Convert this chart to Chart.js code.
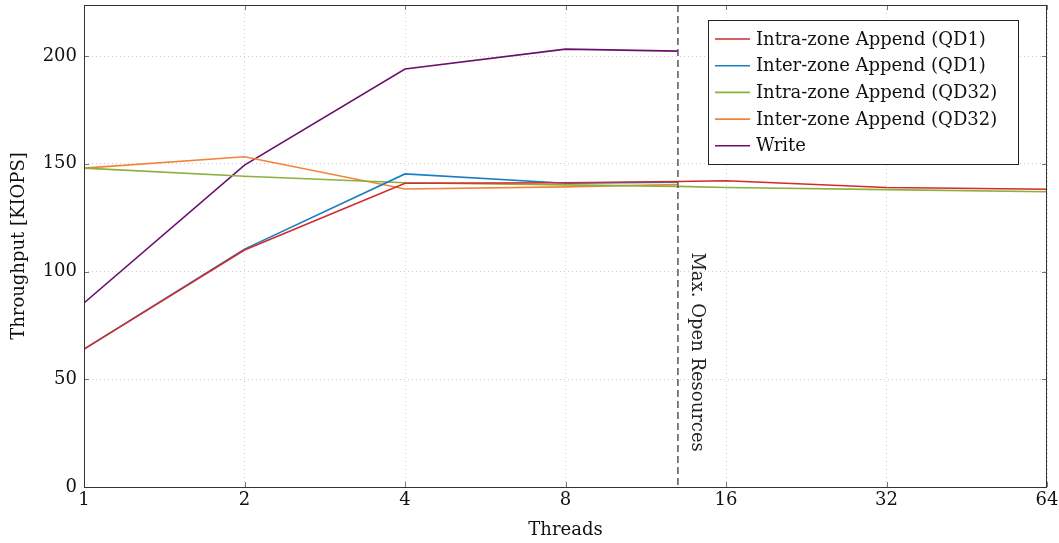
<!DOCTYPE html>
<html>
<head>
<meta charset="utf-8">
<script src="https://cdn.jsdelivr.net/npm/chart.js@4/dist/chart.umd.min.js"></script>
<style>
  html, body { margin: 0; padding: 0; background: #fff; }
  #wrap { width: 1059px; height: 543px; }
</style>
</head>
<body>
<div id="wrap"><canvas id="chart" width="1059" height="543"></canvas></div>
<script>
// Data
const THREAD_TICKS = [1, 2, 4, 8, 16, 32, 64];
const Y_TICKS = [0, 50, 100, 150, 200];
const MAX_OPEN = 13;

const intraQd1Threads = [1, 2, 4, 8, 13, 16, 32, 64];
const intraQd1Kiops   = [64, 110, 141, 141.2, 141.8, 142.1, 139, 138.2];

const interQd1Threads = [1, 2, 4, 8, 13];
const interQd1Kiops   = [64, 110.4, 145.3, 141, 141.5];

const intraQd32Threads = [1, 2, 4, 8, 13, 16, 32, 64];
const intraQd32Kiops   = [148, 144.2, 141.2, 140.2, 139.5, 139, 138, 137];

const interQd32Threads = [1, 2, 4, 8, 13];
const interQd32Kiops   = [148, 153.3, 138.3, 139.3, 140.4];

const writeThreads = [1, 2, 4, 8, 13];
const writeKiops   = [85.4, 149.4, 194, 203.2, 202.3];

const SERIES = [
  { label: 'Intra-zone Append (QD1)',  xs: intraQd1Threads,  ys: intraQd1Kiops,  color: '#d32a2c' },
  { label: 'Inter-zone Append (QD1)',  xs: interQd1Threads,  ys: interQd1Kiops,  color: '#1a7fc3' },
  { label: 'Intra-zone Append (QD32)', xs: intraQd32Threads, ys: intraQd32Kiops, color: '#8db03a' },
  { label: 'Inter-zone Append (QD32)', xs: interQd32Threads, ys: interQd32Kiops, color: '#f5823a' },
  { label: 'Write',                    xs: writeThreads,     ys: writeKiops,     color: '#6a0f6a' },
];

const FONT = '"DejaVu Serif", "Liberation Serif", serif';
const FONT_SIZE = 18;

// frame, inward ticks, dashed marker, legend
const decorations = {
  id: 'decorations',
  afterDatasetsDraw(chart) {
    const { ctx, chartArea: a, scales: { x, y } } = chart;
    ctx.save();

    // inward tick marks on all four sides
    ctx.strokeStyle = '#777';
    ctx.lineWidth = 1;
    ctx.beginPath();
    THREAD_TICKS.forEach(v => {
      const px = Math.round(x.getPixelForValue(v)) + 0.5;
      ctx.moveTo(px, a.bottom); ctx.lineTo(px, a.bottom - 5);
      ctx.moveTo(px, a.top); ctx.lineTo(px, a.top + 5);
    });
    Y_TICKS.forEach(v => {
      const py = Math.round(y.getPixelForValue(v)) + 0.5;
      ctx.moveTo(a.left, py); ctx.lineTo(a.left + 5, py);
      ctx.moveTo(a.right, py); ctx.lineTo(a.right - 5, py);
    });
    ctx.stroke();

    // max open resources marker
    const mx = x.getPixelForValue(MAX_OPEN);
    ctx.strokeStyle = '#555';
    ctx.lineWidth = 1.5;
    ctx.setLineDash([7, 4]);
    ctx.beginPath();
    ctx.moveTo(mx, a.top); ctx.lineTo(mx, a.bottom);
    ctx.stroke();
    ctx.setLineDash([]);

    ctx.save();
    ctx.translate(mx + 19, y.getPixelForValue(62.6));
    ctx.rotate(Math.PI / 2);
    ctx.fillStyle = '#222';
    ctx.font = FONT_SIZE + 'px ' + FONT;
    ctx.textAlign = 'center';
    ctx.textBaseline = 'middle';
    ctx.fillText('Max. Open Resources', 0, 0);
    ctx.restore();

    // frame
    ctx.strokeStyle = '#333';
    ctx.lineWidth = 1;
    ctx.strokeRect(a.left + 0.5, a.top + 0.5, a.right - a.left - 1, a.bottom - a.top);

    // legend box
    const lx = a.right - 339, ly = a.top + 15, lw = 310, lh = 144;
    ctx.fillStyle = '#fff';
    ctx.fillRect(lx, ly, lw, lh);
    ctx.strokeStyle = '#222';
    ctx.strokeRect(lx + 0.5, ly + 0.5, lw, lh);
    ctx.font = FONT_SIZE + 'px ' + FONT;
    ctx.textAlign = 'left';
    ctx.textBaseline = 'middle';
    SERIES.forEach((s, i) => {
      const ry = ly + 19 + i * 26.7;
      ctx.strokeStyle = s.color;
      ctx.lineWidth = 1.6;
      ctx.beginPath();
      ctx.moveTo(lx + 7, ry); ctx.lineTo(lx + 42, ry);
      ctx.stroke();
      ctx.fillStyle = '#111';
      ctx.fillText(s.label, lx + 48, ry + 1);
    });

    ctx.restore();
  }
};

new Chart(document.getElementById('chart'), {
  type: 'line',
  data: {
    datasets: SERIES.map(s => ({
      label: s.label,
      data: s.xs.map((t, i) => ({ x: t, y: s.ys[i] })),
      borderColor: s.color,
      backgroundColor: s.color,
      borderWidth: 1.6,
      pointRadius: 0,
      tension: 0,
      fill: false,
    })),
  },
  options: {
    responsive: false,
    animation: false,
    layout: { padding: { top: 5, right: 12, left: 0, bottom: 0 } },
    plugins: {
      legend: { display: false },
      tooltip: { enabled: false },
    },
    scales: {
      x: {
        type: 'logarithmic',
        min: 1,
        max: 64,
        afterBuildTicks: scale => { scale.ticks = THREAD_TICKS.map(v => ({ value: v })); },
        afterFit: scale => { scale.height = 56; scale.paddingLeft = 0; scale.paddingRight = 0; },
        ticks: {
          color: '#111',
          font: { family: FONT, size: FONT_SIZE },
          padding: 3,
          maxRotation: 0,
          autoSkip: false,
          callback: v => String(v),
        },
        grid: { color: '#cfcfcf', drawTicks: false },
        border: { display: false, dash: [1, 3] },
        title: {
          display: true,
          text: 'Threads',
          color: '#111',
          font: { family: FONT, size: FONT_SIZE },
          padding: { top: 0, bottom: 2 },
        },
      },
      y: {
        min: 0,
        max: 223.7,
        afterBuildTicks: scale => { scale.ticks = Y_TICKS.map(v => ({ value: v })); },
        afterFit: scale => { scale.width = 84; scale.paddingTop = 0; scale.paddingBottom = 0; },
        ticks: {
          color: '#111',
          font: { family: FONT, size: FONT_SIZE },
          padding: 7,
        },
        grid: { color: '#cfcfcf', drawTicks: false },
        border: { display: false, dash: [1, 3] },
        title: {
          display: true,
          text: 'Throughput [KIOPS]',
          color: '#111',
          font: { family: FONT, size: FONT_SIZE },
          padding: { top: 9, bottom: 0 },
        },
      },
    },
  },
  plugins: [decorations],
});
</script>
</body>
</html>
